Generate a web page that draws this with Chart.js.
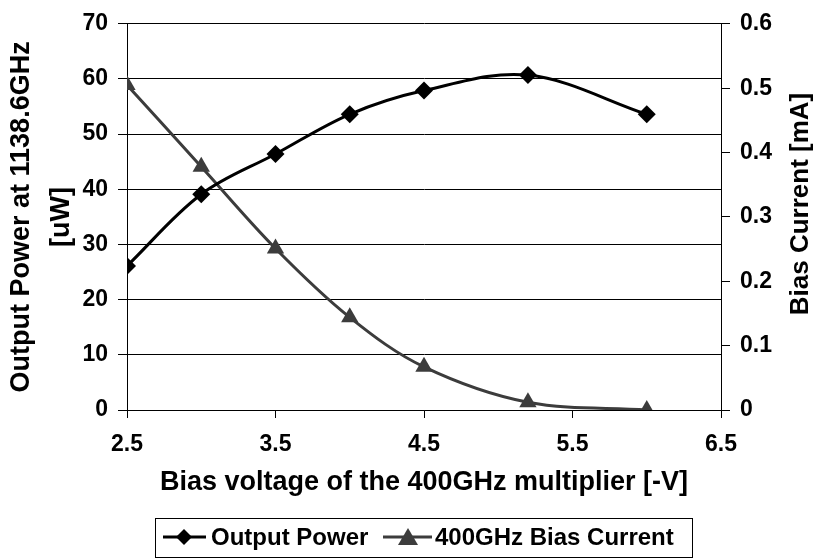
<!DOCTYPE html>
<html>
<head>
<meta charset="utf-8">
<script src="https://cdn.jsdelivr.net/npm/chart.js@4/dist/chart.umd.min.js"></script>
<style>
  html, body { margin: 0; padding: 0; background: #fff; }
  #wrap { width: 817px; height: 560px; }
</style>
</head>
<body>
<div id="wrap"><canvas id="chart" width="817" height="560"></canvas></div>
<script>
// bias voltage of the 400GHz multiplier [-V]
const biasVoltage = [2.5, 3.0, 3.5, 4.0, 4.5, 5.2, 6.0]
// output power at 1138.6GHz [uW]
const outputPower = [26.1, 39.1, 46.4, 53.6, 57.9, 60.7, 53.6]
// 400GHz bias current [mA]
const biasCurrent = [0.505, 0.378, 0.251, 0.144, 0.067, 0.012, 0.0]

const FONT = "'Liberation Sans', Arial, sans-serif"
const POWER_COLOR = '#000000'
const CURRENT_COLOR = '#3c3c3c'

function toPoints(xs, ys) {
    return xs.map((x, i) => ({ x: x, y: ys[i] }))
}

// right title reads bottom-to-top like the left one, so draw it by hand
const rightTitle = {
    id: 'rightTitle',
    afterDraw(chart) {
        const ctx = chart.ctx
        ctx.save()
        ctx.translate(801, 204)
        ctx.rotate(-Math.PI / 2)
        ctx.font = 'bold 26px ' + FONT
        ctx.fillStyle = '#000'
        ctx.textAlign = 'center'
        ctx.textBaseline = 'middle'
        ctx.fillText('Bias Current [mA]', 0, 0)
        ctx.restore()
    }
}

// boxed legend with line + marker samples, like the original
const boxLegend = {
    id: 'boxLegend',
    afterDraw(chart) {
        const ctx = chart.ctx
        const y = 537
        ctx.save()
        ctx.strokeStyle = '#000'
        ctx.lineWidth = 1
        ctx.strokeRect(155.5, 518.5, 537, 39)

        ctx.lineWidth = 3
        ctx.strokeStyle = POWER_COLOR
        ctx.beginPath(); ctx.moveTo(163, y); ctx.lineTo(206, y); ctx.stroke()
        ctx.fillStyle = POWER_COLOR
        ctx.beginPath()
        ctx.moveTo(184, y - 8); ctx.lineTo(192, y); ctx.lineTo(184, y + 8); ctx.lineTo(176, y)
        ctx.closePath(); ctx.fill()

        ctx.strokeStyle = CURRENT_COLOR
        ctx.beginPath(); ctx.moveTo(383, y); ctx.lineTo(432, y); ctx.stroke()
        ctx.fillStyle = CURRENT_COLOR
        ctx.beginPath()
        ctx.moveTo(408, y - 9); ctx.lineTo(418, y + 8); ctx.lineTo(398, y + 8)
        ctx.closePath(); ctx.fill()

        ctx.fillStyle = '#000'
        ctx.font = 'bold 24px ' + FONT
        ctx.textBaseline = 'middle'
        ctx.textAlign = 'left'
        ctx.fillText('Output Power', 211, y + 1)
        ctx.fillText('400GHz Bias Current', 435, y + 1)
        ctx.restore()
    }
}

Chart.defaults.font.family = FONT
Chart.defaults.font.weight = 'bold'
Chart.defaults.font.size = 23
Chart.defaults.color = '#000'

new Chart(document.getElementById('chart'), {
    type: 'scatter',
    data: {
        datasets: [{
            label: 'Output Power',
            data: toPoints(biasVoltage, outputPower),
            yAxisID: 'y',
            showLine: true,
            tension: 0.35,
            borderColor: POWER_COLOR,
            backgroundColor: POWER_COLOR,
            borderWidth: 3,
            pointStyle: 'rectRot',
            pointRadius: 9,
            pointBorderWidth: 0,
            order: 1
        }, {
            label: '400GHz Bias Current',
            data: toPoints(biasVoltage, biasCurrent),
            yAxisID: 'y1',
            showLine: true,
            tension: 0.35,
            borderColor: CURRENT_COLOR,
            backgroundColor: CURRENT_COLOR,
            borderWidth: 3,
            pointStyle: 'triangle',
            pointRadius: 10,
            pointBorderWidth: 0,
            order: 2
        }]
    },
    options: {
        responsive: false,
        animation: false,
        layout: { padding: { top: 18, left: 0, right: 0, bottom: 0 } },
        scales: {
            x: {
                type: 'linear',
                min: 2.5,
                max: 6.5,
                ticks: { stepSize: 1, padding: 13, callback: v => v.toFixed(1) },
                grid: { drawOnChartArea: false, drawTicks: true, tickLength: 8, color: '#000', tickColor: '#000' },
                border: { color: '#000', width: 1 },
                title: {
                    display: true,
                    text: 'Bias voltage of the 400GHz multiplier [-V]',
                    font: { size: 27, weight: 'bold' },
                    padding: { top: 0, bottom: 61 }
                },
                afterFit(s) { s.height = 150 }
            },
            y: {
                position: 'left',
                min: 0,
                max: 70,
                ticks: { stepSize: 10, padding: 10 },
                grid: { color: '#000', tickColor: '#000', tickLength: 9, lineWidth: 1 },
                border: { color: '#000', width: 1 },
                title: {
                    display: true,
                    text: ['Output Power at 1138.6GHz', '[uW]'],
                    font: { size: 27, weight: 'bold', lineHeight: 1.48 },
                    padding: { top: 2, bottom: 0 }
                },
                afterFit(s) { s.width = 127 }
            },
            y1: {
                position: 'right',
                min: 0,
                max: 0.6,
                ticks: { stepSize: 0.1, padding: 10, callback: v => v === 0 ? '0' : v.toFixed(1) },
                grid: { drawOnChartArea: false, tickColor: '#000', tickLength: 9 },
                border: { color: '#000', width: 1 },
                afterFit(s) { s.width = 96 }
            }
        },
        plugins: {
            legend: { display: false },
            tooltip: { enabled: false }
        }
    },
    plugins: [rightTitle, boxLegend]
})
</script>
</body>
</html>
